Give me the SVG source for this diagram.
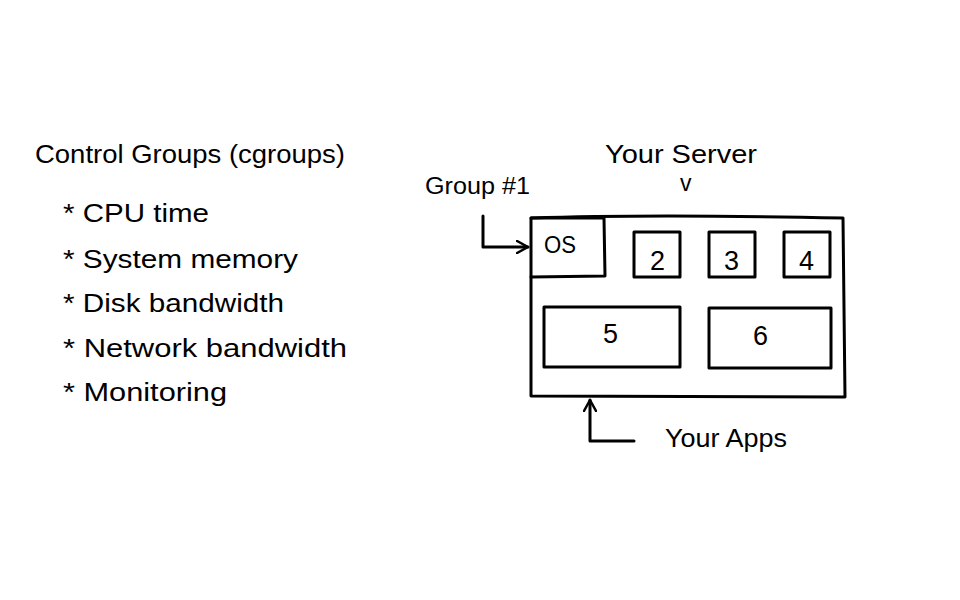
<svg xmlns="http://www.w3.org/2000/svg" width="960" height="600" viewBox="0 0 960 600">
<defs>
<style>
text{font-family:"Liberation Sans","DejaVu Sans",sans-serif;fill:#000;}
.t{font-size:25px;}
.s{font-size:23px;}
.n{font-size:27px;}
.box{fill:none;stroke:#000;stroke-width:3;stroke-linejoin:round;stroke-linecap:round;}
.ln{fill:none;stroke:#000;stroke-width:3;stroke-linecap:round;stroke-linejoin:round;}
</style>
<marker id="ah" viewBox="0 0 14 14" refX="12" refY="7" markerWidth="14" markerHeight="14" markerUnits="userSpaceOnUse" orient="auto">
<path d="M1,1 L12,7 L1,13" fill="none" stroke="#000" stroke-width="2.5" stroke-linecap="round" stroke-linejoin="round"/>
</marker>
</defs>
<rect width="960" height="600" fill="#fff"/>
<g id="title"><text class="t" x="35" y="163" textLength="310" lengthAdjust="spacingAndGlyphs">Control Groups (cgroups)</text></g>
<g id="list">
<text class="t" x="63" y="222" textLength="146" lengthAdjust="spacingAndGlyphs">* CPU time</text>
<text class="t" x="63" y="268" textLength="235" lengthAdjust="spacingAndGlyphs">* System memory</text>
<text class="t" x="63" y="312" textLength="221" lengthAdjust="spacingAndGlyphs">* Disk bandwidth</text>
<text class="t" x="63" y="357" textLength="284" lengthAdjust="spacingAndGlyphs">* Network bandwidth</text>
<text class="t" x="63" y="401" textLength="164" lengthAdjust="spacingAndGlyphs">* Monitoring</text>
</g>
<g id="server-label">
<text class="t" x="605" y="163" textLength="152" lengthAdjust="spacingAndGlyphs">Your Server</text>
<text class="s" x="680" y="191">v</text>
</g>
<g id="group-label"><text class="s" x="425" y="194" textLength="105" lengthAdjust="spacingAndGlyphs">Group #1</text></g>
<g id="apps-label"><text class="t" x="665" y="447" textLength="122" lengthAdjust="spacingAndGlyphs">Your Apps</text></g>
<g id="server"><path class="box" d="M531,218 Q650,214 843,218 L845,397 L531,396 Z"/></g>
<g id="os"><path class="box" d="M531,218 L604,218 L605,276 L531,277"/><text class="s" x="544" y="253" textLength="32" lengthAdjust="spacingAndGlyphs">OS</text></g>
<g id="app2"><rect class="box" x="634" y="232" width="46" height="45"/><text class="n" x="650" y="270">2</text></g>
<g id="app3"><rect class="box" x="709" y="232" width="46" height="45"/><text class="n" x="724" y="270">3</text></g>
<g id="app4"><rect class="box" x="784" y="232" width="46" height="45"/><text class="n" x="799" y="270">4</text></g>
<g id="app5"><rect class="box" x="544" y="307" width="136" height="60"/><text class="n" x="603" y="343">5</text></g>
<g id="app6"><rect class="box" x="709" y="308" width="122" height="60"/><text class="n" x="753" y="345">6</text></g>
<g id="connectors">
<path class="ln" d="M483,216 L483,247 L528,247" marker-end="url(#ah)"/>
<path class="ln" d="M634,441 L590,441 L590,400" marker-end="url(#ah)"/>
</g>
</svg>
